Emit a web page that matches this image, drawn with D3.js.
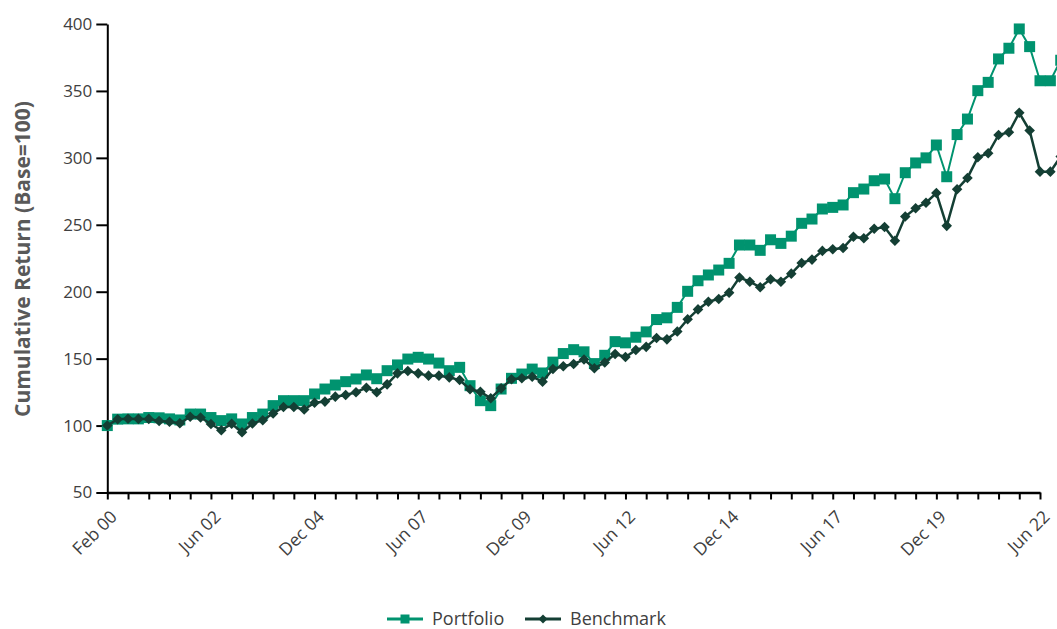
<!DOCTYPE html>
<html>
<head>
<meta charset="utf-8">
<script src="https://cdn.jsdelivr.net/npm/d3@7"></script>
<style>
  html, body { margin: 0; padding: 0; background: #fff; overflow: hidden; }
  svg { display: block; }
</style>
</head>
<body>
<svg id="chart" width="1057" height="629"></svg>
<script>
// ---- Data (quarterly observations, index 0 = Feb 00) ----
const portfolio = [
  100, 104.8, 105, 105, 106, 105.8, 105, 104.2, 108.6, 108.6,
  106, 103.7, 105, 101.2, 106, 108.6, 114.9, 118.6, 118.6, 118.6,
  123.6, 127.3, 130.3, 132.8, 134.8, 137.8, 135, 141, 145.3, 149.7,
  151, 149.7, 146.7, 141, 143.5, 129.8, 118.6, 114.9, 127.3, 135.3,
  138.5, 142.2, 139.3, 147.4, 153.8, 156.7, 155.1, 146.3, 152.5, 162.7,
  161.8, 166, 170, 179.2, 180.5, 188.3, 200.3, 208.2, 212.5, 216.2,
  221.2, 234.9, 234.9, 230.9, 238.8, 236.1, 241.5, 251.1, 254.3, 261.8,
  263, 264.8, 274, 276.7, 282.9, 284.2, 269.5, 288.9, 296.2, 300,
  309.6, 285.9, 317.4, 329, 350.2, 356.4, 373.9, 381.9, 396.3, 383.1,
  357.6, 357.6, 373
];
const benchmark = [
  100, 104.7, 105.1, 105, 105, 103.4, 102.9, 101.7, 106.6, 106,
  101.2, 96.5, 101.4, 95, 101.5, 104, 109, 113.9, 113.9, 112,
  117, 117.9, 121.6, 122.8, 124.9, 128.3, 124.9, 130.8, 139, 140.8,
  139, 137.3, 137.3, 136, 134, 127.1, 125.3, 120.4, 127.8, 134.6,
  135.3, 136.5, 132.8, 142.3, 144.3, 146, 149.3, 142.8, 147.1, 153.5,
  151.2, 156.5, 158.8, 165.4, 164.4, 170.3, 179.4, 186.8, 192.5, 194.6,
  199.3, 210.6, 207.5, 203.3, 209.3, 207.5, 213.5, 221.5, 224, 230.5,
  231.7, 232.6, 241.1, 239.9, 247, 248.3, 238.1, 256.2, 262.3, 266.5,
  273.7, 249.2, 276.6, 285, 300.4, 303.4, 317.1, 319.1, 333.7, 320.4,
  289.7, 289.7, 301
];
const tickLabels = ["Feb 00", "Jun 02", "Dec 04", "Jun 07", "Dec 09",
                    "Jun 12", "Dec 14", "Jun 17", "Dec 19", "Jun 22"];
const labelEvery = 10;   // one label every 10 observations
const tickEvery = 2;     // one tick mark every 2 observations
const yTicks = [50, 100, 150, 200, 250, 300, 350, 400];
const seriesNames = ["Portfolio", "Benchmark"];

// ---- Styles ----
const cPort = "#00936f";
const cBench = "#143f34";
const textCol = "#404040";
const fontFam = "'Open Sans', 'DejaVu Sans', sans-serif";

const svg = d3.select("#chart");

const n = portfolio.length;
const x = d3.scaleLinear().domain([0, 90]).range([107.3, 1040]);
const y = d3.scaleLinear().domain([50, 400]).range([492.5, 24]);

// ---- Y axis ----
const yAxis = d3.axisLeft(y).tickValues(yTicks).tickSize(11).tickSizeOuter(0).tickPadding(4);
const gy = svg.append("g").attr("transform", `translate(${x(0)},0)`).call(yAxis);
gy.select(".domain").attr("stroke", "#000").attr("stroke-width", 2);
gy.selectAll(".tick line").attr("stroke", "#000").attr("stroke-width", 2);
gy.selectAll(".tick text").attr("fill", textCol).style("font-family", fontFam).style("font-size", "17px");

// ---- X axis ----
const tickIdx = d3.range(0, n, tickEvery);
const xAxis = d3.axisBottom(x).tickValues(tickIdx).tickSize(7).tickSizeOuter(0)
  .tickFormat(i => (i % labelEvery === 0 && tickLabels[i / labelEvery]) ? tickLabels[i / labelEvery] : "");
const gx = svg.append("g").attr("transform", `translate(0,${y(50)})`).call(xAxis);
gx.select(".domain").attr("stroke", "#000").attr("stroke-width", 2.5);
gx.selectAll(".tick line").attr("stroke", "#000").attr("stroke-width", 2);
gx.selectAll(".tick text")
  .attr("fill", textCol).style("font-family", fontFam).style("font-size", "17.5px")
  .attr("text-anchor", "end").attr("x", 0).attr("y", 0).attr("dy", "0.35em")
  .attr("transform", "translate(6,21) rotate(-45)");

// ---- Y axis title ----
svg.append("text")
  .attr("transform", `translate(23,${259}) rotate(-90)`)
  .attr("text-anchor", "middle")
  .attr("dy", "0.35em")
  .attr("fill", "#595959")
  .style("font-family", fontFam).style("font-size", "21px").style("font-weight", "bold")
  .text("Cumulative Return (Base=100)");

// ---- Lines & markers ----
const line = d3.line().x((d, i) => x(i)).y(d => y(d));
const sq = d3.symbol().type(d3.symbolSquare).size(121);
const dia = d3.symbol().type(d3.symbolSquare).size(56);

svg.append("path").datum(portfolio).attr("d", line)
  .attr("fill", "none").attr("stroke", cPort).attr("stroke-width", 2);
svg.append("g").selectAll("path").data(portfolio).join("path")
  .attr("d", sq).attr("fill", cPort)
  .attr("transform", (d, i) => `translate(${x(i)},${y(d)})`);

svg.append("path").datum(benchmark).attr("d", line)
  .attr("fill", "none").attr("stroke", cBench).attr("stroke-width", 2.5);
svg.append("g").selectAll("path").data(benchmark).join("path")
  .attr("d", dia).attr("fill", cBench)
  .attr("transform", (d, i) => `translate(${x(i)},${y(d)}) rotate(45)`);

// ---- Legend ----
const legend = svg.append("g");
const items = [
  { name: seriesNames[0], color: cPort, rot: 0, sx: 387, tx: 432, msize: 81 },
  { name: seriesNames[1], color: cBench, rot: 45, sx: 525, tx: 570, msize: 40 }
];
const ly = 619;
items.forEach(it => {
  legend.append("line").attr("x1", it.sx).attr("x2", it.sx + 36).attr("y1", ly).attr("y2", ly)
    .attr("stroke", it.color).attr("stroke-width", 3);
  legend.append("path")
    .attr("d", d3.symbol().type(d3.symbolSquare).size(it.msize))
    .attr("fill", it.color)
    .attr("transform", `translate(${it.sx + 18},${ly}) rotate(${it.rot})`);
  legend.append("text").attr("x", it.tx).attr("y", ly).attr("dy", "0.35em")
    .attr("fill", textCol).style("font-family", fontFam).style("font-size", "18px")
    .text(it.name);
});
</script>
</body>
</html>
